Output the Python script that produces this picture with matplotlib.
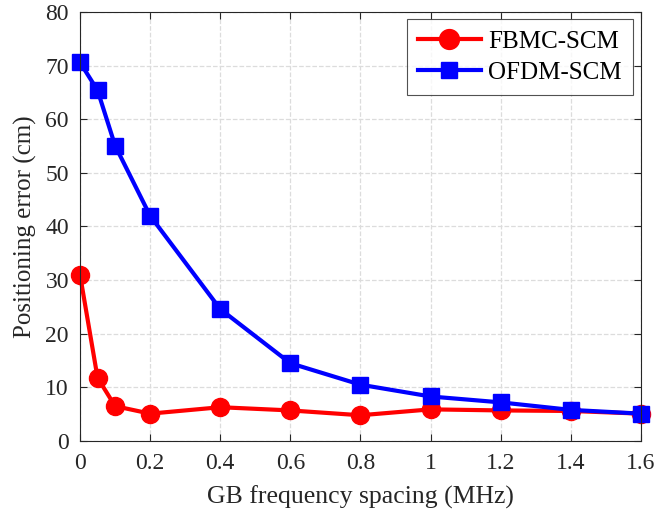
import matplotlib
matplotlib.use('Agg')
import matplotlib.pyplot as plt

plt.rcParams['font.family'] = ['Liberation Serif', 'DejaVu Serif']

# GB frequency spacing (MHz)
spacing = [0, 0.05, 0.1, 0.2, 0.4, 0.6, 0.8, 1.0, 1.2, 1.4, 1.6]
# positioning error (cm)
fbmc_err = [31.0, 11.8, 6.5, 5.1, 6.3, 5.7, 4.8, 5.9, 5.7, 5.6, 5.1]
ofdm_err = [70.6, 65.4, 55.1, 42.0, 24.6, 14.5, 10.5, 8.3, 7.2, 5.8, 5.1]
xticks = [0, 0.2, 0.4, 0.6, 0.8, 1, 1.2, 1.4, 1.6]
xticklabels = ['0', '0.2', '0.4', '0.6', '0.8', '1', '1.2', '1.4', '1.6']

fig = plt.figure(figsize=(6.58, 5.15), dpi=100)
ax = fig.add_axes([0.1216, 0.1437, 0.8525, 0.833])

ax.plot(spacing, fbmc_err, '-o', color='#ff0000', lw=3, ms=13, label='FBMC-SCM', clip_on=False)
ax.plot(spacing, ofdm_err, '-s', color='#0000ff', lw=3, ms=11, label='OFDM-SCM', clip_on=False)

ax.set_xlim(0, 1.6)
ax.set_ylim(0, 80)
ax.set_xticks(xticks)
ax.set_xticklabels(xticklabels)
ax.set_yticks(range(0, 81, 10))
ax.grid(True, ls='--', color='#dcdcdc', lw=0.9)
ax.set_axisbelow(True)
ax.tick_params(labelsize=17, colors='#262626', direction='in', length=5, width=0.8,
               top=True, right=True)
ax.tick_params(axis='y', pad=8)
ax.tick_params(axis='x', pad=9)
for s in ax.spines.values():
    s.set_color('#262626')
    s.set_linewidth(0.8)

ax.set_xlabel('GB frequency spacing (MHz)', fontsize=18.5, color='#262626', labelpad=8)
ax.set_ylabel('Positioning error (cm)', fontsize=18, color='#262626', labelpad=6)

leg = ax.legend(loc='upper right', fontsize=18, fancybox=False, edgecolor='#262626',
                handlelength=2.5, handletextpad=0.3, borderpad=0.45, labelspacing=0.35,
                borderaxespad=0, markerscale=1.1, bbox_to_anchor=(0.986, 0.984))
leg.get_frame().set_linewidth(0.8)

fig.savefig('out.png', dpi=100)
